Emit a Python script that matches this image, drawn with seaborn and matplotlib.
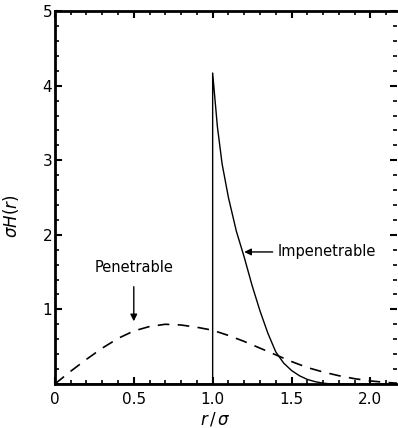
import numpy as np
import pandas as pd
import matplotlib
matplotlib.use("Agg")
import matplotlib.pyplot as plt
import seaborn as sns
from matplotlib.ticker import MultipleLocator

sns.set_theme(style="ticks")
plt.rcParams['font.family'] = ['DejaVu Sans']
plt.rcParams['text.color'] = 'black'

# Impenetrable: zero inside the core, jump at r = sigma, then decay
imp_r = [0.0, 1.0, 1.0, 1.03, 1.06, 1.1, 1.15, 1.2, 1.25, 1.3, 1.35, 1.4, 1.45,
         1.5, 1.55, 1.6, 1.65, 1.7, 1.75, 1.85, 2.0, 2.17]
imp_h = [0.0, 0.0, 4.17, 3.45, 2.95, 2.5, 2.05, 1.7, 1.32, 0.98, 0.68, 0.43, 0.28,
         0.18, 0.11, 0.06, 0.03, 0.01, 0.0, 0.0, 0.0, 0.0]

# Penetrable: broad hump
pen_r = [0.0, 0.1, 0.2, 0.3, 0.4, 0.5, 0.6, 0.7, 0.8, 0.9, 1.0, 1.1, 1.2, 1.3,
         1.4, 1.5, 1.6, 1.7, 1.8, 1.9, 2.0, 2.1, 2.17]
pen_h = [0.0, 0.17, 0.33, 0.48, 0.61, 0.71, 0.77, 0.80, 0.79, 0.76, 0.72, 0.65,
         0.57, 0.48, 0.39, 0.30, 0.22, 0.16, 0.11, 0.07, 0.04, 0.02, 0.01]

x_ticks = [0, 0.5, 1.0, 1.5, 2.0]
x_tick_labels = ["0", "0.5", "1.0", "1.5", "2.0"]
y_ticks = [1, 2, 3, 4, 5]
y_tick_labels = ["1", "2", "3", "4", "5"]

df_imp = pd.DataFrame({"r": imp_r, "H": imp_h})
df_pen = pd.DataFrame({"r": pen_r, "H": pen_h})

fig = plt.figure(figsize=(3.98, 4.28), dpi=100)
ax = fig.add_axes([0.138, 0.103, 0.86, 0.871])

sns.lineplot(data=df_imp, x="r", y="H", sort=False, estimator=None,
             color="black", lw=1.0, ax=ax)
sns.lineplot(data=df_pen, x="r", y="H", sort=False, estimator=None,
             color="black", lw=1.2, ax=ax, linestyle=(0, (7, 5)))

ax.set_xlim(0, 2.17)
ax.set_ylim(0, 5)
ax.set_xticks(x_ticks)
ax.set_xticklabels(x_tick_labels)
ax.set_yticks(y_ticks)
ax.set_yticklabels(y_tick_labels)
ax.xaxis.set_minor_locator(MultipleLocator(0.1))
ax.yaxis.set_minor_locator(MultipleLocator(0.2))
ax.tick_params(which="both", direction="in", top=True, right=True, labelsize=11,
               color="black", labelcolor="black")
ax.tick_params(which="major", length=5, width=1.5)
ax.tick_params(which="minor", length=3, width=1.2)
ax.tick_params(axis="x", pad=6)
ax.tick_params(axis="y", pad=2)

for s in ["left", "bottom", "top"]:
    ax.spines[s].set_linewidth(2.0)
    ax.spines[s].set_color("black")
ax.spines["right"].set_visible(False)

ax.set_xlabel(r"$r\,/\,\sigma$", fontsize=12, color="black")
ax.set_ylabel(r"$\sigma H(r)$", fontsize=12, color="black")
ax.xaxis.set_label_coords(0.47, -0.07)
ax.yaxis.set_label_coords(-0.10, 0.45)

ax.annotate("Penetrable", xy=(0.5, 0.84), xytext=(0.5, 1.56),
            ha="center", va="center", fontsize=10.5, color="black",
            arrowprops=dict(arrowstyle="-|>", color="black", lw=1.0,
                            shrinkA=6, shrinkB=0, mutation_scale=10))
ax.annotate("Impenetrable", xy=(1.2, 1.77), xytext=(1.41, 1.77),
            ha="left", va="center", fontsize=10.5, color="black",
            arrowprops=dict(arrowstyle="-|>", color="black", lw=1.0,
                            shrinkA=1, shrinkB=0, mutation_scale=10))

fig.savefig("out.png", dpi=100)
